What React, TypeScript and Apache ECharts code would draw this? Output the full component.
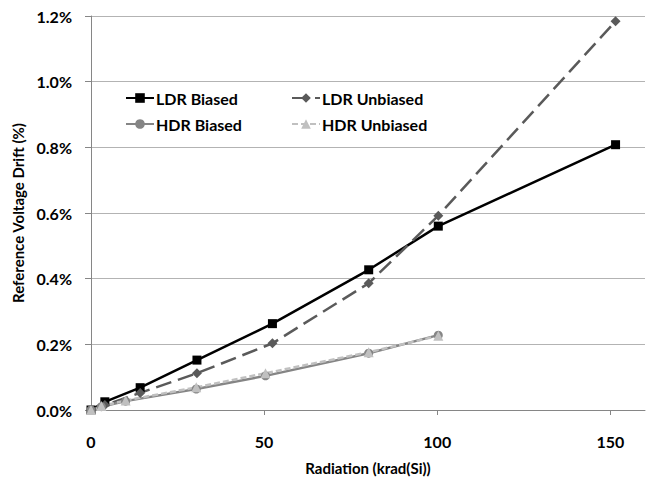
import React, { useEffect, useRef } from "react";
import * as echarts from "echarts";

const ldrBiasedX = [0, 4, 14.2, 30.6, 52.4, 80.2, 100.3, 151.5];
const ldrBiasedY = [0, 0.025, 0.068, 0.152, 0.263, 0.427, 0.56, 0.808];
const ldrUnbiasedX = [0, 4, 14.2, 30.6, 52.4, 80.2, 100.3, 151.5];
const ldrUnbiasedY = [0, 0.015, 0.052, 0.112, 0.203, 0.386, 0.592, 1.184];
const hdrBiasedX = [0, 3, 10, 30.4, 50.4, 80.2, 100.3];
const hdrBiasedY = [0, 0.01, 0.027, 0.064, 0.104, 0.173, 0.228];
const hdrUnbiasedX = [0, 3, 10, 30.4, 50.4, 80.2, 100.3];
const hdrUnbiasedY = [0, 0.012, 0.029, 0.069, 0.112, 0.176, 0.226];
const seriesNames = ["LDR Biased", "LDR Unbiased", "HDR Biased", "HDR Unbiased"];
const xTicks = [0, 50, 100, 150];

const FONT = "Lato";

function pairs(xs: number[], ys: number[]) {
  return xs.map((x, i) => [x, ys[i]]);
}

export default function App() {
  const ref = useRef<HTMLDivElement>(null);
  useEffect(() => {
    if (!ref.current) return;
    const chart = echarts.init(ref.current, undefined, { renderer: "svg" });
    const big = { fontFamily: FONT, fontWeight: "bold" as const, fontSize: 16, color: "#000" };
    const title = { fontFamily: FONT, fontWeight: "bold" as const, fontSize: 15, color: "#000" };
    const legendCommon = {
      orient: "vertical",
      top: 90,
      padding: 0,
      itemWidth: 28,
      itemHeight: 12,
      itemGap: 10,
      textStyle: { ...big, padding: [0, 0, 0, -3] },
    };
    chart.setOption({
      animation: false,
      textStyle: { fontFamily: FONT },
      grid: { left: 91, right: 6, top: 16, bottom: 72 },
      legend: [
        { ...legendCommon, left: 125, data: [seriesNames[0], seriesNames[2]] },
        { ...legendCommon, left: 291, data: [seriesNames[1], seriesNames[3]] },
      ],
      xAxis: {
        type: "value",
        min: 0,
        max: 160,
        interval: 50,
        name: "Radiation (krad(Si))",
        nameLocation: "middle",
        nameGap: 50,
        nameTextStyle: { ...title },
        axisLine: { show: true, lineStyle: { color: "#868686", width: 1 } },
        axisTick: { show: true, length: 5, lineStyle: { color: "#868686" }, customValues: xTicks },
        axisLabel: { ...big, margin: 23, customValues: xTicks },
        splitLine: { show: false },
      },
      yAxis: {
        type: "value",
        min: 0,
        max: 1.2,
        interval: 0.2,
        name: "Reference Voltage Drift (%)",
        nameLocation: "middle",
        nameGap: 61,
        nameTextStyle: { ...title },
        axisLine: { show: true, lineStyle: { color: "#868686", width: 1 } },
        axisTick: { show: true, length: 6, lineStyle: { color: "#868686" } },
        axisLabel: { ...big, margin: 19, formatter: (v: number) => v.toFixed(1) + "%" },
        splitLine: { show: true, lineStyle: { color: "#b3b3b3", width: 1 } },
      },
      series: [
        {
          name: seriesNames[0],
          type: "line",
          data: pairs(ldrBiasedX, ldrBiasedY),
          symbol: "rect",
          symbolSize: 9,
          clip: false,
          lineStyle: { color: "#000000", width: 2.5 },
          itemStyle: { color: "#000000" },
        },
        {
          name: seriesNames[1],
          type: "line",
          data: pairs(ldrUnbiasedX, ldrUnbiasedY),
          symbol: "diamond",
          symbolSize: 10,
          clip: false,
          lineStyle: { color: "#5a5a5a", width: 2.5, type: [16, 7] },
          itemStyle: { color: "#5a5a5a" },
        },
        {
          name: seriesNames[2],
          type: "line",
          data: pairs(hdrBiasedX, hdrBiasedY),
          symbol: "circle",
          symbolSize: 9,
          clip: false,
          lineStyle: { color: "#858585", width: 2.5 },
          itemStyle: { color: "#858585" },
        },
        {
          name: seriesNames[3],
          type: "line",
          data: pairs(hdrUnbiasedX, hdrUnbiasedY),
          symbol: "triangle",
          symbolSize: 10,
          clip: false,
          lineStyle: { color: "#c0c0c0", width: 2.5, type: [6, 3] },
          itemStyle: { color: "#c0c0c0" },
        },
      ],
    });
    return () => chart.dispose();
  }, []);
  return <div ref={ref} style={{ width: 651, height: 482, position: "absolute", left: 0, top: 0, background: "#fff" }} />;
}
